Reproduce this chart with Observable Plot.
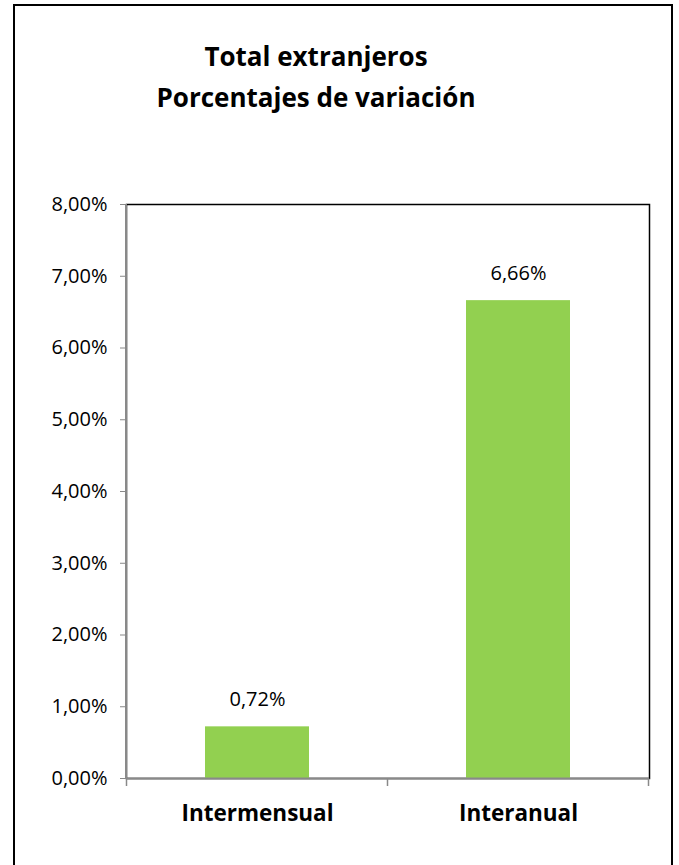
<!DOCTYPE html>
<html>
<head>
<meta charset="utf-8">
<script src="https://cdn.jsdelivr.net/npm/d3@7"></script>
<script src="https://cdn.jsdelivr.net/npm/@observablehq/plot@0.6"></script>
<style>
  html, body { margin: 0; padding: 0; background: #fff; width: 679px; height: 865px; overflow: hidden; }
  #box { position: absolute; left: 13px; top: 4px; width: 660px; height: 900px; border: 2px solid #000; box-sizing: border-box; z-index: 2; pointer-events: none; }
  #title { position: absolute; left: 0; width: 632px; top: 36px; text-align: center; font-family: "Open Sans", sans-serif; font-weight: bold; font-size: 26px; line-height: 41px; color: #000; }
  #chart { position: absolute; left: 0; top: 150px; }
</style>
</head>
<body>
<div id="box"></div>
<div id="title">Total extranjeros<br>Porcentajes de variación</div>
<div id="chart"></div>
<script>
const categories = ["Intermensual", "Interanual"];
const values = [0.72, 6.66];
const yTicks = [0, 1, 2, 3, 4, 5, 6, 7, 8];

const data = categories.map((c, i) => ({cat: c, val: values[i]}));
const fmt = d => d.toFixed(2).replace(".", ",") + "%";
const gray = "#898989";

const plot = Plot.plot({
  width: 679,
  height: 700,
  marginLeft: 126,
  marginRight: 30,
  marginTop: 54,
  marginBottom: 72,
  style: {fontFamily: "'Open Sans', sans-serif", fontSize: "20px", color: "#000", background: "transparent"},
  x: {domain: categories, paddingInner: 0.6, paddingOuter: 0.3, label: null},
  y: {domain: [0, 8], label: null},
  marks: [
    Plot.frame({stroke: "#000", strokeWidth: 1.5}),
    Plot.barY(data, {x: "cat", y: "val", fill: "#92D050"}),
    Plot.text(data, {x: "cat", y: "val", text: d => fmt(d.val), dy: -27, fill: "#000", fontSize: 20}),
    Plot.ruleY([0], {stroke: gray, strokeWidth: 2}),
    Plot.axisY(yTicks, {tickSize: 6, tickPadding: 13, tickFormat: fmt, stroke: gray, fill: "#000", fontSize: 20}),
    Plot.axisX({tickSize: 0, tickPadding: 27, fontWeight: "bold", fontSize: 22.5, fill: "#000"})
  ]
});

document.getElementById("chart").appendChild(plot);

// left axis line and category-boundary ticks derived from the plot's scales
const xs = plot.scale("x");
const ys = plot.scale("y");
const svg = d3.select(plot);
const x0 = xs.range[0];
const yb = ys.apply(0), yt = ys.apply(8);
svg.append("line").attr("x1", x0).attr("x2", x0).attr("y1", yt).attr("y2", yb)
  .attr("stroke", gray).attr("stroke-width", 2);
const step = xs.step;
const start = xs.apply(categories[0]) - (step - xs.bandwidth) / 2;
for (let i = 0; i <= categories.length; i++) {
  const xp = start + i * step;
  svg.append("line").attr("x1", xp).attr("x2", xp).attr("y1", yb).attr("y2", yb + 8)
    .attr("stroke", gray).attr("stroke-width", 1.5);
}
</script>
</body>
</html>
